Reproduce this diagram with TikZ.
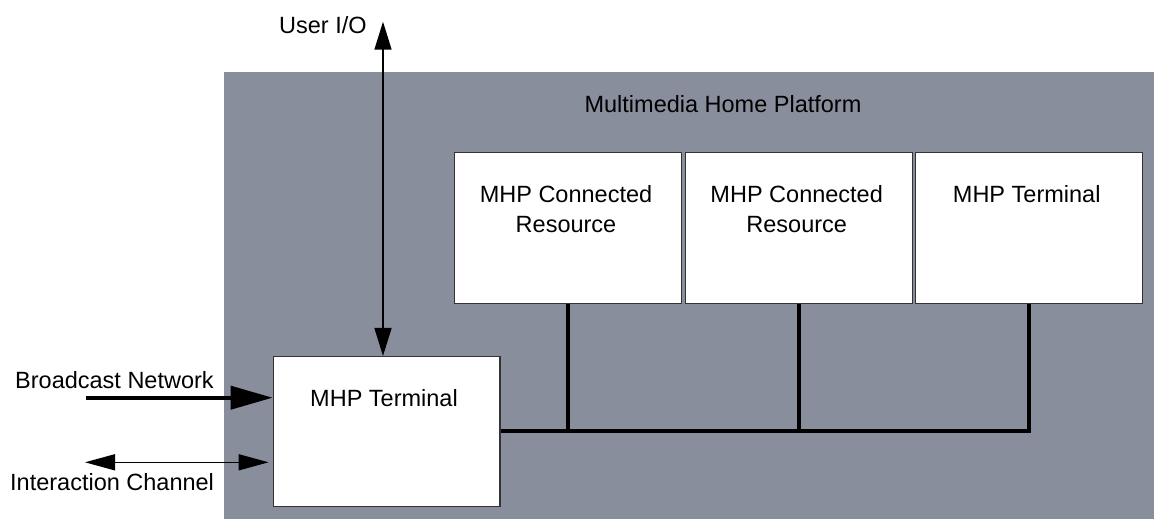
\documentclass[tikz,border=0pt]{standalone}
\usepackage{fontspec}
\setmainfont{Liberation Sans}
\usetikzlibrary{arrows.meta}
\definecolor{platgray}{RGB}{137,142,156}
\begin{document}
\begin{tikzpicture}[x=1pt,y=-1pt,
  font=\fontsize{23.5}{29.5}\selectfont,
  box/.style={draw=black!80, line width=1.5pt, fill=white, minimum width=227pt, minimum height=151pt, inner sep=0pt},
  txt/.style={inner sep=0pt, text=black},
  bus/.style={line width=4pt},
  thinline/.style={line width=1.5pt},
  bighead/.style={Triangle[length=42pt,width=23pt]},
  uhead/.style={Triangle[length=28pt,width=17pt]},
  ihead/.style={Triangle[length=30pt,width=16pt]}]
\useasboundingbox (0,0) rectangle (1154,519);
\fill[platgray] (224,72) rectangle (1154,519);
% boxes
\node[box, minimum width=226.7pt, minimum height=150pt] (b0) at (386.7,431.7) {};
\node[box] (b1) at (567.8,227.8) {};
\node[box] (b2) at (798.8,227.8) {};
\node[box] (b3) at (1029.2,227.8) {};
% texts
\node[txt, anchor=base] (tp) at (723,112.3) {Multimedia Home Platform};
\node[txt, anchor=base] (t0) at (384,406.7) {MHP Terminal};
\node[txt, align=center] (t1) at (566,209) {MHP Connected\\Resource};
\node[txt, align=center] (t2) at (796.7,209) {MHP Connected\\Resource};
\node[txt, anchor=base] (t3) at (1026.7,202) {MHP Terminal};
\node[txt, anchor=base west] (tu) at (279,33.7) {User I/O};
\node[txt, anchor=base west] (tb) at (15,388.3) {Broadcast Network};
\node[txt, anchor=base west] (ti) at (10,490) {Interaction Channel};
% arrows
\coordinate (uio) at (383,21.7);
\draw[thinline, {Triangle[length=28pt,width=17pt]}-{Triangle[length=28pt,width=17pt]}] (uio) -- (uio |- b0.north);
\coordinate (bn) at (86,397.7);
\draw[bus, -{Triangle[length=42pt,width=23pt]}] (bn) -- (bn -| b0.west);
\coordinate (ic) at (85,462.3);
\draw[thinline, {Triangle[length=30pt,width=16pt]}-{Triangle[length=30pt,width=16pt]}, shorten >=4pt] (ic) -- (ic -| b0.west);
% bus
\coordinate (busend) at (1029.2,431);
\draw[bus] (b0.east |- busend) -- (busend) -- (b3.south);
\draw[bus] (b1.south) -- (b1.south |- busend);
\draw[bus] (b2.south) -- (b2.south |- busend);
\end{tikzpicture}
\end{document}
